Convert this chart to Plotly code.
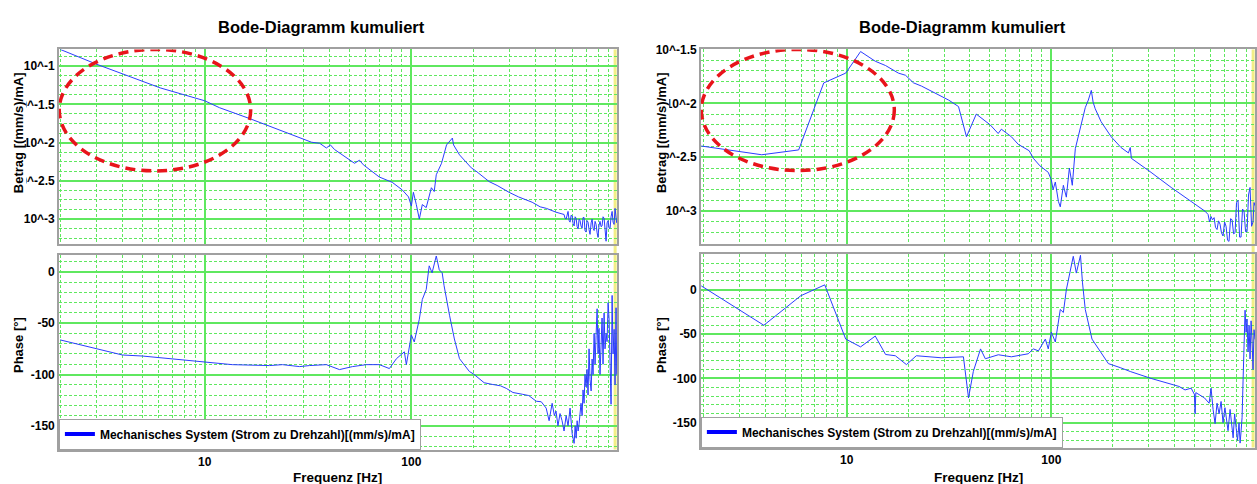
import plotly.graph_objects as go

# ---------------- data ----------------
TITLE = "Bode-Diagramm kumuliert"
SERIES_NAME = "Mechanisches System (Strom zu Drehzahl)[(mm/s)/mA]"
X_TITLE = "Frequenz [Hz]"
MAG_TITLE = "Betrag [(mm/s)/mA]"
PHASE_TITLE = "Phase [°]"
X_TICK_VALS = [10, 100]
X_TICK_TEXT = ["10", "100"]
MAG_TICK_EXP = [-1, -1.5, -2, -2.5, -3]
MAG_TICK_TEXT = ["10^-1", "10^-1.5", "10^-2", "10^-2.5", "10^-3"]
PHASE_TICKS = [0, -50, -100, -150]
PHASE_TICK_TEXT = ["0", "-50", "-100", "-150"]

# left diagram: magnitude (log10 of |G|) over frequency [Hz]
left_mag_freq = [2.0, 3.0, 6.1, 10, 11.8, 16.5, 32.9, 36, 38.8, 40.6, 42.5, 46.4,
                 53.1, 56.1, 58.6, 70, 80.9, 90.5, 96.9, 100, 102.3, 105.7, 109.3,
                 113, 118, 125, 129, 132, 140, 148, 153, 158, 160, 171, 195, 205,
                 238, 260, 297, 330, 384, 420, 450, 501,
                 548, 554, 561, 567, 573, 580, 586, 593, 600, 606,
                 613, 620, 627, 634, 641, 648, 655, 662, 670, 677,
                 685, 692, 700, 708, 716, 724, 732, 741, 749, 757,
                 766, 774, 783, 792, 800, 809, 818, 828, 837, 846,
                 856, 865, 875, 885, 895, 905, 915, 925, 936, 946,
                 957, 967, 978, 985]
left_mag_log = [-0.78, -0.974, -1.284, -1.452, -1.543, -1.685, -1.995, -2.008,
                -2.07, -2.03, -2.09, -2.16, -2.27, -2.23, -2.29, -2.45, -2.52,
                -2.62, -2.71, -2.83, -2.65, -2.81, -3.0, -2.81, -2.85, -2.59,
                -2.64, -2.42, -2.27, -2.03, -1.99, -1.94, -2.03, -2.16, -2.33,
                -2.37, -2.51, -2.56, -2.65, -2.71, -2.78, -2.84, -2.86, -2.91,
                -2.94, -2.99, -3.00, -2.93, -2.90, -3.02, -3.04, -2.95, -2.96, -3.06,
                -3.09, -2.97, -2.99, -3.10, -3.13, -3.00, -3.02, -3.09, -3.12, -2.98,
                -2.98, -3.15, -3.17, -3.02, -3.04, -3.14, -3.20, -3.05, -3.00, -3.12,
                -3.15, -3.03, -3.07, -3.18, -3.24, -3.08, -3.03, -3.10, -3.09, -2.97,
                -2.99, -3.13, -3.29, -3.05, -3.02, -3.12, -3.12, -2.97, -2.90, -3.04,
                -3.07, -2.86, -2.96, -3.05]

# left diagram: phase [deg]
left_ph_freq = [2.0, 3.0, 4.0, 5.0, 7.0, 10, 13.6, 20.6, 23.8, 28.8, 32.1, 38.8,
                44.9, 51.9, 60.6, 70, 78.3, 84.7, 92.5, 94.6, 100, 103.3, 109.3,
                113, 118, 122, 126, 132, 136.5, 141, 144, 153, 161.5, 171, 191,
                200, 213, 225, 246, 270, 288, 310, 344, 370, 402, 425,
                449, 464, 480, 492, 501, 512, 524, 536, 548, 561,
                573, 586, 600, 613, 620, 627, 634, 641, 648, 655,
                662, 670, 677, 685, 692, 700, 708, 716, 724, 732,
                741, 749, 757, 766, 774, 783, 792, 800, 809, 818,
                828, 837, 846, 856, 865, 875, 885, 895, 905, 915,
                925, 936, 946, 957, 967, 978, 985]
left_ph_deg = [-66.3, -75, -81, -82, -84.6, -87.5, -90.4, -91.3, -90.4, -92.3,
               -91.3, -90.4, -95.2, -92.3, -90.4, -90.4, -94.2, -84.6, -77.9,
               -90.4, -61.5, -68.3, -46.2, -26.9, -17.3, 5.8, -1.0, 15.4, 1.9,
               -1.0, -13.5, -42.3, -65.4, -84.6, -97.1,
               -99.5, -103.8, -108, -109.6, -111, -113.5, -117.5, -119.2, -120.5,
               -126, -126.5,
               -132.7, -145, -128, -140, -135.6, -150, -138, -145, -155, -140,
               -150, -132.7, -158, -167, -150, -162, -145, -155, -148, -135,
               -128, -140, -115, -128, -100, -112, -95, -120, -75, -105,
               -116, -85, -100, -60, -90, -62, -36, -80, -55, -100,
               -71, -45, -90, -40, -75, -60, -68, -30, -46, -95,
               -129, -23, -80, -56, -110, -35, -100]

# right diagram: magnitude (log10 of |G|)
right_mag_freq = [1.95, 3.85, 5.83, 7.73, 9.9, 11.7, 13.8, 15.5, 17.9, 19.4, 21.2,
                  23.2, 31.5, 35.2, 38.5, 43, 50.3, 55, 57, 63.8, 68.9, 78, 81.7,
                  88, 96.6, 100, 102, 104.6, 108.3, 110.6, 114.5, 118.4, 122.5,
                  126.6, 131, 138.8, 146.5, 151.6, 156.8, 160, 163.8, 175, 196,
                  219, 238, 243, 246, 307, 385, 482,
                  563, 583, 593, 603, 613, 624, 634, 645, 656, 667,
                  678, 690, 702, 714, 726, 738, 751, 764, 777, 790,
                  803, 817, 831, 845, 859, 874, 889, 904, 919, 935,
                  951, 967, 978, 989]
right_mag_log = [-2.396, -2.477, -2.432, -1.811, -1.72, -1.52, -1.61, -1.65, -1.72,
                 -1.74, -1.81, -1.84, -1.97, -2.03, -2.31, -2.10, -2.20, -2.28,
                 -2.24, -2.31, -2.38, -2.44, -2.51, -2.58, -2.64, -2.71, -2.80,
                 -2.73, -2.91, -2.96, -2.76, -2.87, -2.60, -2.76, -2.42, -2.22,
                 -2.04, -1.97, -1.88, -1.99, -2.05, -2.17, -2.31, -2.41, -2.46,
                 -2.41, -2.51, -2.64, -2.78, -2.91,
                 -3.00, -3.03, -3.10, -3.05, -3.08, -3.06, -3.15, -3.17, -3.09, -3.12,
                 -3.20, -3.23, -3.10, -3.14, -3.27, -3.28, -3.07, -3.08, -3.21, -3.20,
                 -2.92, -2.90, -3.24, -3.24, -2.98, -3.00, -3.19, -3.19, -2.85, -2.78,
                 -3.14, -3.10, -2.92, -2.95]

# right diagram: phase [deg]
right_ph_freq = [1.95, 3.94, 5.97, 7.82, 9.9, 11.7, 13.8, 15.5, 17.3, 19.6, 21.9,
                 29, 37.2, 39.4, 41.6, 45.1, 47.6, 55.1, 63.8, 77.1, 81.7, 86.5,
                 93.5, 96.6, 100, 104.6, 110.6, 114.5, 118.4, 125, 128, 132.5,
                 138.8, 142, 146.5, 158, 170, 190, 217, 243, 307,
                 385, 420, 450, 482, 500, 504, 508, 530, 560, 590,
                 603, 617, 631, 645, 660, 675, 690, 705, 714, 730,
                 747, 760, 773, 786, 799, 812, 826, 836, 845, 855,
                 865, 874, 884, 894, 904, 914, 925, 935, 946, 957,
                 967, 978, 989]
right_ph_deg = [4.4, -40, -6.7, 5.6, -55.6, -64.4, -52.2, -73, -74.4, -84.4,
                -74.4, -76.7, -75.6, -122, -92, -66.7, -77.8, -73.3, -75.6, -72.2,
                -66.7, -68.9, -55.6, -66.7, -47.8, -58.9, -22.2, -25.6, 0, 26.7,
                37.8, 18.9, 38.9, 7.8, -22.2, -55.6, -66.7, -83.3, -87.8, -92.2,
                -100,
                -106.7, -109, -113, -111, -118, -140, -116, -119, -122, -128,
                -111, -135, -151, -128, -140, -126, -150, -133, -142, -159,
                -135, -150, -167, -140, -155, -170, -150, -173, -160, -144,
                -100, -60, -23, -48, -33, -70, -40, -78, -35, -60,
                -90, -45, -56]

# ---------------- styles ----------------
FONT = "Liberation Sans, Arial, sans-serif"
LINE_COLOR = "#2b3cff"
GRID = "#5fe85f"
FRAME = "#a0a0a0"
W, H = 1257, 484

left_mag = [10 ** v for v in left_mag_log]
right_mag = [10 ** v for v in right_mag_log]

fig = go.Figure()
fig.add_trace(go.Scatter(x=left_mag_freq, y=left_mag, mode="lines", xaxis="x", yaxis="y",
                         line=dict(color=LINE_COLOR, width=1), showlegend=False))
fig.add_trace(go.Scatter(x=left_ph_freq, y=left_ph_deg, mode="lines", xaxis="x2", yaxis="y2",
                         line=dict(color=LINE_COLOR, width=1), showlegend=False))
fig.add_trace(go.Scatter(x=right_mag_freq, y=right_mag, mode="lines", xaxis="x3", yaxis="y3",
                         line=dict(color=LINE_COLOR, width=1), showlegend=False))
fig.add_trace(go.Scatter(x=right_ph_freq, y=right_ph_deg, mode="lines", xaxis="x4", yaxis="y4",
                         line=dict(color=LINE_COLOR, width=1), showlegend=False))
# legend entries
fig.add_trace(go.Scatter(x=[None], y=[None], mode="lines", xaxis="x2", yaxis="y2",
                         line=dict(color="#0000ff", width=4), name=SERIES_NAME, legend="legend"))
fig.add_trace(go.Scatter(x=[None], y=[None], mode="lines", xaxis="x4", yaxis="y4",
                         line=dict(color="#0000ff", width=4), name=SERIES_NAME, legend="legend2"))

x_minor = [m * d for d in (1, 10, 100) for m in range(2, 10)]


def px_x(p):
    return p / W


def px_y(p):
    return 1 - p / H


def xaxis(domain, rng, anchor, labels):
    return dict(domain=domain, type="log", range=rng, anchor=anchor,
                tickvals=X_TICK_VALS, ticktext=X_TICK_TEXT, showticklabels=labels,
                ticks="", showgrid=True, gridcolor=GRID, gridwidth=1.5,
                minor=dict(tickvals=x_minor, showgrid=True, gridcolor=GRID,
                           griddash="3px,2px", gridwidth=1, ticks=""),
                showline=True, linecolor=FRAME, linewidth=1.5, mirror=True,
                tickfont=dict(family=FONT, size=12, color="black", weight="bold"),
                zeroline=False)


def mag_yaxis(domain, rng, anchor, step):
    minor = []
    e = -3.5
    while e < 0:
        if abs(e * 2 - round(e * 2)) > 1e-6:
            minor.append(10 ** e)
        e += step
    return dict(domain=domain, type="log", range=rng, anchor=anchor,
                tickvals=[10 ** v for v in MAG_TICK_EXP], ticktext=MAG_TICK_TEXT,
                ticks="", showgrid=True, gridcolor=GRID, gridwidth=1.5,
                minor=dict(tickvals=minor, showgrid=True, gridcolor=GRID,
                           griddash="3px,2px", gridwidth=1, ticks=""),
                showline=True, linecolor=FRAME, linewidth=1.5, mirror=True,
                tickfont=dict(family=FONT, size=12, color="black", weight="bold"),
                zeroline=False)


def ph_yaxis(domain, rng, anchor):
    return dict(domain=domain, range=rng, anchor=anchor,
                tickvals=PHASE_TICKS, ticktext=PHASE_TICK_TEXT,
                ticks="", showgrid=True, gridcolor=GRID, gridwidth=1.5,
                minor=dict(dtick=10, showgrid=True, gridcolor=GRID,
                           griddash="3px,2px", gridwidth=1, ticks=""),
                showline=True, linecolor=FRAME, linewidth=1.5, mirror=True,
                tickfont=dict(family=FONT, size=12, color="black", weight="bold"),
                zeroline=False)


L_DOM = [px_x(59), px_x(618)]
R_DOM = [px_x(702), 1.0]
MAG_DOM = [px_y(240), px_y(43)]
L_PH_DOM = [px_y(449), px_y(252)]
R_PH_DOM = [px_y(447), px_y(251)]

fig.update_layout(
    width=W, height=H, autosize=False,
    margin=dict(l=0, r=0, t=0, b=0),
    paper_bgcolor="white", plot_bgcolor="white",
    font=dict(family=FONT, color="black"),
    xaxis=xaxis(L_DOM, [0.295, 2.995], "y", False),
    yaxis=mag_yaxis(MAG_DOM, [-3.32, -0.78], "x", 0.125),
    xaxis2=xaxis(L_DOM, [0.295, 2.995], "y2", True),
    yaxis2=ph_yaxis(L_PH_DOM, [-173, 16], "x2"),
    xaxis3=xaxis(R_DOM, [0.288, 2.995], "y3", False),
    yaxis3=mag_yaxis(MAG_DOM, [-3.30, -1.50], "x3", 0.1),
    xaxis4=xaxis(R_DOM, [0.288, 2.995], "y4", True),
    yaxis4=ph_yaxis(R_PH_DOM, [-178, 40], "x4"),
    legend=dict(x=px_x(59), y=px_y(449), xanchor="left", yanchor="bottom",
                bgcolor="white", bordercolor=FRAME, borderwidth=1,
                font=dict(family=FONT, size=12, color="black", weight="bold")),
    legend2=dict(x=px_x(702), y=px_y(447), xanchor="left", yanchor="bottom",
                 bgcolor="white", bordercolor=FRAME, borderwidth=1,
                 font=dict(family=FONT, size=12, color="black", weight="bold")),
    showlegend=True,
)

shapes = []
# yellow marker lines at the right edge (data values on the log axis)
for xr, y0 in (("x", px_y(449)), ("x3", px_y(447))):
    shapes.append(dict(type="line", xref=xr, yref="paper", x0=968, x1=968,
                       y0=y0, y1=px_y(43), line=dict(color="#f2ee86", width=3),
                       layer="below"))
# red dashed ellipses
shapes.append(dict(type="circle", xref="x", yref="y", x0=1.98, x1=16.7,
                   y0=10 ** -2.37, y1=10 ** -0.78,
                   line=dict(color="#e8141b", width=3.5, dash="10px,6px")))
shapes.append(dict(type="circle", xref="x3", yref="y3", x0=1.95, x1=17.1,
                   y0=10 ** -2.624, y1=10 ** -1.5,
                   line=dict(color="#e8141b", width=3.5, dash="10px,6px")))
fig.update_layout(shapes=shapes)

ann = []
for cx in (322, 964):
    ann.append(dict(text=TITLE, x=px_x(cx), y=px_y(20), xref="paper", yref="paper",
                    xanchor="center", yanchor="middle", showarrow=False,
                    font=dict(family=FONT, size=16.5, weight="bold")))
for cx in (338, 980):
    ann.append(dict(text=X_TITLE, x=px_x(cx), y=px_y(477), xref="paper", yref="paper",
                    xanchor="center", yanchor="middle", showarrow=False,
                    font=dict(family=FONT, size=13.5, weight="bold")))
for cx in (18, 662):
    ann.append(dict(text=MAG_TITLE, x=px_x(cx), y=px_y(127), xref="paper", yref="paper",
                    xanchor="center", yanchor="middle", showarrow=False, textangle=-90,
                    bgcolor="white", borderpad=0,
                    font=dict(family=FONT, size=13, weight="bold")))
    ann.append(dict(text=PHASE_TITLE, x=px_x(cx), y=px_y(343), xref="paper", yref="paper",
                    xanchor="center", yanchor="middle", showarrow=False, textangle=-90,
                    font=dict(family=FONT, size=13, weight="bold")))
fig.update_layout(annotations=ann)

fig.write_html("out.html", config={"displayModeBar": False},
               post_script="document.body.style.margin='0';document.body.style.padding='0';")
